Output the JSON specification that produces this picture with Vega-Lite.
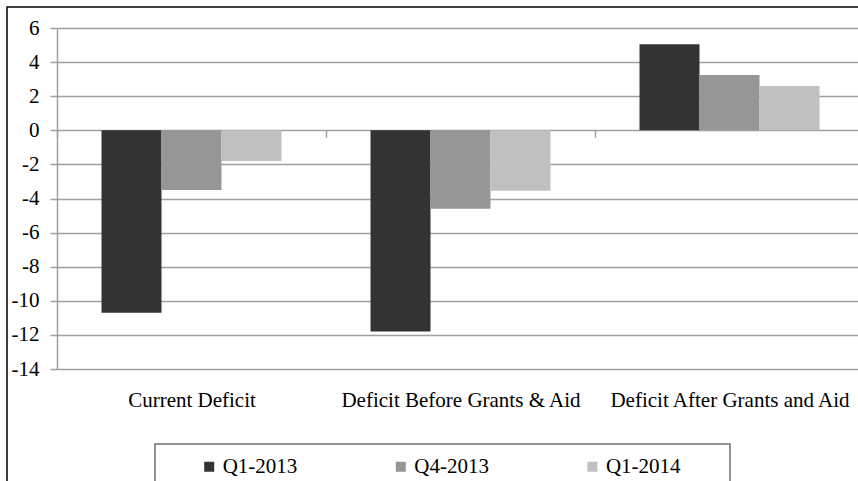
{
  "$schema": "https://vega.github.io/schema/vega-lite/v6.json",
  "width": 853,
  "height": 476,
  "autosize": {"type": "none"},
  "padding": {"left": 7, "top": 7, "right": -2, "bottom": -2},
  "background": "white",
  "config": {
    "font": "Liberation Serif",
    "view": {"stroke": "#000000", "strokeWidth": 1.5}
  },
  "data": {
    "values": [
      {"measure": "Current Deficit", "period": "Q1-2013", "value": -10.7},
      {"measure": "Current Deficit", "period": "Q4-2013", "value": -3.5},
      {"measure": "Current Deficit", "period": "Q1-2014", "value": -1.8},
      {"measure": "Deficit Before Grants & Aid", "period": "Q1-2013", "value": -11.8},
      {"measure": "Deficit Before Grants & Aid", "period": "Q4-2013", "value": -4.6},
      {"measure": "Deficit Before Grants & Aid", "period": "Q1-2014", "value": -3.55},
      {"measure": "Deficit After Grants and Aid", "period": "Q1-2013", "value": 5.05},
      {"measure": "Deficit After Grants and Aid", "period": "Q4-2013", "value": 3.25},
      {"measure": "Deficit After Grants and Aid", "period": "Q1-2014", "value": 2.6}
    ]
  },
  "mark": {"type": "bar"},
  "encoding": {
    "x": {
      "field": "measure",
      "type": "nominal",
      "sort": null,
      "scale": {"range": [50, 857], "paddingInner": 0, "paddingOuter": 0},
      "axis": {
        "title": null,
        "orient": "bottom",
        "offset": -352.7,
        "domain": false,
        "grid": false,
        "ticks": true,
        "tickBand": "extent",
        "tickSize": 7,
        "tickColor": "#a0a0a0",
        "tickWidth": 1.5,
        "labelAngle": 0,
        "labelPadding": 252,
        "labelFontSize": 21,
        "labelFont": "Liberation Serif",
        "labelColor": "#000000",
        "labelLimit": 400
      }
    },
    "xOffset": {
      "field": "period",
      "type": "nominal",
      "sort": ["Q1-2013", "Q4-2013", "Q1-2014"],
      "scale": {"paddingInner": 0, "paddingOuter": 0.742}
    },
    "y": {
      "field": "value",
      "type": "quantitative",
      "scale": {"domain": [-14, 6], "range": [362, 21], "nice": false, "zero": false},
      "axis": {
        "title": null,
        "values": [-14, -12, -10, -8, -6, -4, -2, 0, 2, 4, 6],
        "labelExpr": "'' + datum.value",
        "offset": -50,
        "domain": true,
        "domainColor": "#a0a0a0",
        "domainWidth": 1.5,
        "ticks": true,
        "tickSize": 7,
        "tickColor": "#a0a0a0",
        "tickWidth": 1.5,
        "grid": true,
        "gridColor": "#a0a0a0",
        "gridWidth": 1.5,
        "labelPadding": 11,
        "labelFontSize": 21,
        "labelFont": "Liberation Serif",
        "labelColor": "#000000"
      }
    },
    "color": {
      "field": "period",
      "type": "nominal",
      "scale": {
        "domain": ["Q1-2013", "Q4-2013", "Q1-2014"],
        "range": ["#333333", "#969696", "#c0c0c0"]
      },
      "legend": {
        "orient": "none",
        "legendX": 148,
        "legendY": 437,
        "direction": "horizontal",
        "title": " ",
        "titleOrient": "right",
        "titleFontSize": 21,
        "titlePadding": 37,
        "padding": 12,
        "fillColor": "white",
        "strokeColor": "#707070",
        "symbolType": "square",
        "symbolSize": 100,
        "symbolStrokeWidth": 0,
        "symbolOpacity": 1,
        "symbolOffset": 31.7,
        "labelOffset": 3,
        "columnPadding": 60.6,
        "labelFontSize": 21,
        "labelFont": "Liberation Serif",
        "labelColor": "#000000",
        "encode": {
          "legend": {"update": {"strokeWidth": {"value": 1.5}}}
        }
      }
    }
  }
}
